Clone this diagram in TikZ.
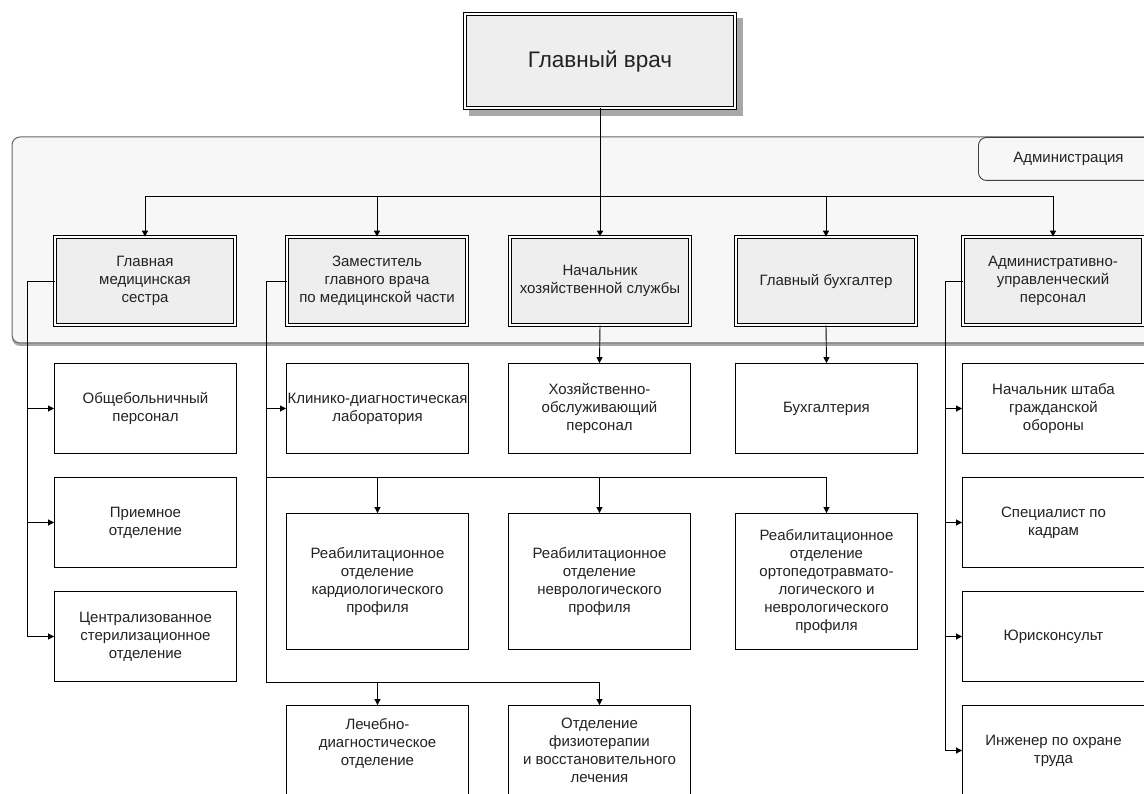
\documentclass[tikz,border=0pt]{standalone}
\usepackage{fontspec}
\setmainfont{Liberation Sans}
\usetikzlibrary{arrows.meta}
\definecolor{contfill}{HTML}{F7F7F7}
\definecolor{boxfill}{HTML}{EEEEEE}
\definecolor{shadowc}{HTML}{A8A8A8}
\definecolor{textc}{HTML}{222222}
\begin{document}
\begin{tikzpicture}[x=1pt,y=-1pt,
  txt/.style={align=center, inner sep=1pt, text=textc, font=\fontsize{15}{18}\selectfont},
  box/.style={txt, draw=black, line width=0.9pt, fill=white, minimum width=182pt, minimum height=90pt},
  dbox/.style={txt, draw=black, line width=0.8pt, double=white, double distance=2.4pt, fill=boxfill, minimum width=180pt, minimum height=88pt},
  tallbox/.style={box, minimum height=136pt},
  tabbox/.style={txt, draw=black!75, line width=0.9pt, rounded corners=8pt, fill=contfill, minimum width=180pt, minimum height=43pt, anchor=north west},
  conn/.style={line width=0.9pt, draw=black},
  arr/.style={conn, -{Triangle[length=6pt,width=6pt]}}
]
\useasboundingbox (0,0) rectangle (1144,794);
\clip (0,0) rectangle (1144,794);

% container "Администрация"
\fill[shadowc, rounded corners=8pt] (12,140) rectangle (1170,346);
\draw[draw=black!60, line width=1pt, fill=contfill, rounded corners=8pt] (12,137) rectangle (1170,343);
\node[tabbox] (adm) at (978,137) {Администрация};

% top box with shadow
\fill[shadowc] (469,18) rectangle (743,116);
\node[dbox, minimum width=270pt, minimum height=94pt, font=\fontsize{22.5}{26}\selectfont] (gv) at (600,61) {Главный врач};

% level 2
\node[dbox] (m1) at (145,281) {Главная\\медицинская\\сестра};
\node[dbox] (m2) at (377,281) {Заместитель\\главного врача\\по медицинской части};
\node[dbox] (m3) at (600,281) {Начальник\\хозяйственной службы};
\node[dbox] (m4) at (826,281) {Главный бухгалтер};
\node[dbox] (m5) at (1053,281) {Административно-\\управленческий\\персонал};

% left column
\node[box] (c11) at (145.5,408.5) {Общебольничный\\персонал};
\node[box] (c12) at (145.5,522.5) {Приемное\\отделение};
\node[box] (c13) at (145.5,636.5) {Централизованное\\стерилизационное\\отделение};

% second column
\node[box] (c2) at (377.5,408.5) {Клинико-диагностическая\\лаборатория};
\node[tallbox] (r1) at (377.5,581.5) {Реабилитационное\\отделение\\кардиологического\\профиля};
\node[box] (b1) at (377.5,750.5) {Лечебно-\\диагностическое\\отделение\\\mbox{}};

% third column
\node[box] (c3) at (599.5,408.5) {Хозяйственно-\\обслуживающий\\персонал};
\node[tallbox] (r2) at (599.5,581.5) {Реабилитационное\\отделение\\неврологического\\профиля};
\node[box] (b2) at (599.5,750.5) {Отделение\\физиотерапии\\и восстановительного\\лечения};

% fourth column
\node[box] (c4) at (826.5,408.5) {Бухгалтерия};
\node[tallbox] (r3) at (826.5,581.5) {Реабилитационное\\отделение\\ортопедотравмато-\\логического и\\неврологического\\профиля};

% right column
\node[box] (c51) at (1053.5,408.5) {Начальник штаба\\гражданской\\обороны};
\node[box] (c52) at (1053.5,522.5) {Специалист по\\кадрам};
\node[box] (c53) at (1053.5,636.5) {Юрисконсульт};
\node[box] (c54) at (1053.5,750.5) {Инженер по охране\\труда};

% connectors: top
\coordinate (bus) at (600,196);
\draw[conn] (gv.south) -- (gv.south |- bus);
\draw[conn] (m1.north |- bus) -- (m5.north |- bus);
\foreach \n in {m1,m2,m3,m4,m5} \draw[arr] (\n.north |- bus) -- (\n.north);

% left branch
\coordinate (lx) at (27,0);
\draw[conn] (m1.west) -- (m1.west -| lx) -- (lx |- c13.west);
\foreach \n in {c11,c12,c13} \draw[arr] (lx |- \n.west) -- (\n.west);

% second branch
\coordinate (mx) at (266,0);
\coordinate (h1) at (0,477);
\coordinate (h2) at (0,682);
\draw[conn] (m2.west) -- (m2.west -| mx) -- (mx |- h2) -- (b2.north |- h2);
\draw[conn] (mx |- h1) -- (r3.north |- h1);
\draw[arr] (mx |- c2.west) -- (c2.west);
\foreach \n in {r1,r2,r3} \draw[arr] (\n.north |- h1) -- (\n.north);
\foreach \n in {b1,b2} \draw[arr] (\n.north |- h2) -- (\n.north);

% third and fourth
\draw[arr] (m3.south) -- (c3.north);
\draw[arr] (m4.south) -- (c4.north);

% right branch
\coordinate (rx) at (945,0);
\draw[conn] (m5.west) -- (m5.west -| rx) -- (rx |- c54.west);
\foreach \n in {c51,c52,c53,c54} \draw[arr] (rx |- \n.west) -- (\n.west);
\end{tikzpicture}
\end{document}
